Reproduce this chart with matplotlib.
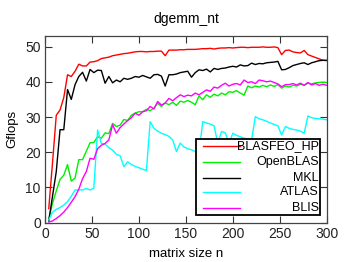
import numpy as np
import matplotlib
matplotlib.use("Agg")
import matplotlib.pyplot as plt
from matplotlib.patches import Rectangle
from matplotlib.lines import Line2D

plt.rcParams['font.family'] = ['Liberation Sans', 'DejaVu Sans']

n = list(range(4, 301, 4))

blasfeo_hp = [4, 17, 30.5, 32.0, 35.5, 42.0, 41.5, 43.0, 45.0, 44.5, 44.5, 45.6, 45.7, 46.0,
              46.6, 46.8, 47.0, 47.4, 47.6, 47.8, 48.0, 48.1, 48.3, 48.5, 48.6, 48.6, 48.5,
              48.6, 48.6, 48.7, 48.7, 47.4, 49.0, 49.0, 49.0, 49.1, 49.1, 49.2, 49.2, 49.2,
              49.3, 49.4, 49.4, 49.5, 49.3, 49.5, 49.6, 49.6, 49.7, 49.6, 49.7, 49.8, 49.8,
              49.7, 49.8, 49.8, 49.8, 49.9, 49.8, 49.8, 49.9, 49.7, 47.7, 48.9, 49.0, 48.5,
              48.3, 48.2, 48.9, 47.7, 47.3, 46.9, 46.5, 46.1, 46.0]

openblas = [1.0, 5.5, 9.0, 12.3, 13.5, 16.5, 11.8, 12.7, 17.9, 17.9, 20.3, 22.7, 22.8, 24.4,
            24.0, 25.5, 25.3, 28.2, 27.3, 27.7, 29.3, 29.0, 30.5, 31.1, 31.5, 31.5, 32.2,
            31.8, 32.5, 33.9, 33.0, 34.0, 33.5, 34.2, 33.3, 34.5, 34.2, 34.7, 34.2, 33.5,
            36.0, 34.9, 36.3, 35.6, 36.5, 36.0, 36.8, 36.3, 37.2, 37.0, 37.5, 36.8, 36.2,
            38.8, 38.3, 38.8, 38.5, 39.0, 38.6, 39.1, 38.7, 39.2, 38.2, 38.8, 38.5, 39.0,
            38.8, 39.3, 39.0, 39.6, 39.4, 39.7, 39.8, 39.9, 39.8]

mkl = [0.5, 7.5, 14.5, 26.4, 26.4, 37.8, 35.0, 39.2, 41.5, 42.7, 40.2, 43.5, 42.6, 43.3,
       43.2, 39.6, 41.5, 39.7, 40.5, 40.0, 41.0, 40.7, 41.0, 41.5, 41.3, 41.8, 41.4, 41.0,
       42.0, 42.1, 41.6, 38.8, 42.0, 42.0, 42.2, 42.6, 42.8, 43.0, 41.3, 42.6, 43.4, 43.2,
       43.6, 42.8, 43.8, 43.5, 43.8, 43.9, 44.2, 44.4, 44.2, 44.8, 44.5, 44.6, 45.3, 44.9,
       45.2, 45.1, 45.4, 45.5, 45.6, 45.8, 43.4, 43.5, 44.0, 44.6, 44.9, 45.2, 45.4, 44.9,
       45.4, 45.7, 46.0, 46.1, 46.1]

atlas = [0.8, 3.0, 3.8, 4.3, 5.0, 6.0, 7.5, 9.3, 9.3, 9.3, 9.7, 9.3, 9.8, 26.3, 22.5, 22.3,
         21.3, 20.6, 19.4, 19.0, 15.9, 17.3, 16.5, 16.0, 15.6, 15.2, 14.8, 28.7, 26.8, 26.0,
         25.4, 25.0, 24.5, 23.5, 20.2, 22.6, 21.5, 21.0, 20.7, 20.2, 19.9, 28.7, 28.3, 28.0,
         27.5, 22.6, 25.9, 25.5, 22.6, 25.4, 24.8, 24.4, 24.0, 23.8, 23.5, 30.1, 29.5, 29.2,
         28.8, 28.3, 27.9, 27.5, 24.9, 27.3, 26.8, 26.5, 26.3, 26.0, 25.4, 30.3, 29.8, 29.6,
         29.5, 29.4, 29.2]

blis = [0.2, 0.5, 1.2, 2.0, 3.0, 4.3, 5.8, 7.4, 9.5, 12.5, 14.5, 18.3, 18.0, 21.0, 22.0,
        22.5, 23.5, 27.8, 25.4, 27.0, 28.0, 29.0, 29.8, 31.1, 30.5, 31.5, 31.8, 33.0, 32.3,
        34.4, 33.4, 34.0, 35.3, 34.6, 35.5, 36.3, 35.8, 36.2, 36.0, 36.8, 36.3, 37.0, 37.7,
        37.3, 38.5, 38.2, 39.0, 39.6, 38.8, 39.3, 39.5, 39.1, 40.5, 39.8, 40.0, 39.5, 40.5,
        40.3, 40.0, 40.2, 39.8, 39.4, 38.6, 39.2, 39.2, 39.5, 39.1, 39.6, 39.0, 39.8, 39.1,
        39.5, 39.0, 39.3, 39.0]

series_names = ["BLASFEO_HP", "OpenBLAS", "MKL", "ATLAS", "BLIS"]
series_vals = [blasfeo_hp, openblas, mkl, atlas, blis]
colors = ["#ff0000", "#00f000", "#000000", "#00ffff", "#ff00ff"]

x_ticks = [0, 50, 100, 150, 200, 250, 300]
y_ticks = [0, 10, 20, 30, 40, 50]

fig = plt.figure(figsize=(3.49, 2.62), dpi=100)
ax = fig.add_axes([45/349, 1-222.7/262, 281.7/349, 186.7/262])

for name, vals, c in zip(series_names, series_vals, colors):
    ax.plot(n, vals, color=c, lw=1.0)

ax.set_xlim(0, 300)
ax.set_ylim(0, 53)
ax.set_xticks(x_ticks)
ax.set_yticks(y_ticks)
ax.tick_params(direction='in', length=5, width=0.8, top=True, right=True,
               labelsize=10, colors='#333333', labelcolor='#222222', pad=3)
for s in ax.spines.values():
    s.set_color('#444444')
    s.set_linewidth(0.9)

ax.set_title("dgemm_nt", fontsize=10, pad=9)
ax.set_xlabel("matrix size n", fontsize=9.5, labelpad=5)
ax.set_ylabel("Gflops", fontsize=9.5, labelpad=5)

# legend box (gnuplot style: sample on left, right-aligned text)
x0, x1 = 0.536, 0.976
y0, y1 = 0.041, 0.448
ax.add_patch(Rectangle((x0, y0), x1 - x0, y1 - y0, transform=ax.transAxes,
                       facecolor='white', edgecolor='black', lw=1.3, zorder=5))
rows = [0.412, 0.3235, 0.241, 0.163, 0.080]
for name, c, ry in zip(series_names, colors, rows):
    ax.add_line(Line2D([0.561, 0.692], [ry, ry], transform=ax.transAxes,
                       color=c, lw=1.0, zorder=6))
    ax.text(0.972, ry, name, transform=ax.transAxes, ha='right', va='center',
            fontsize=9, zorder=7)

fig.savefig("out.png", dpi=100)
